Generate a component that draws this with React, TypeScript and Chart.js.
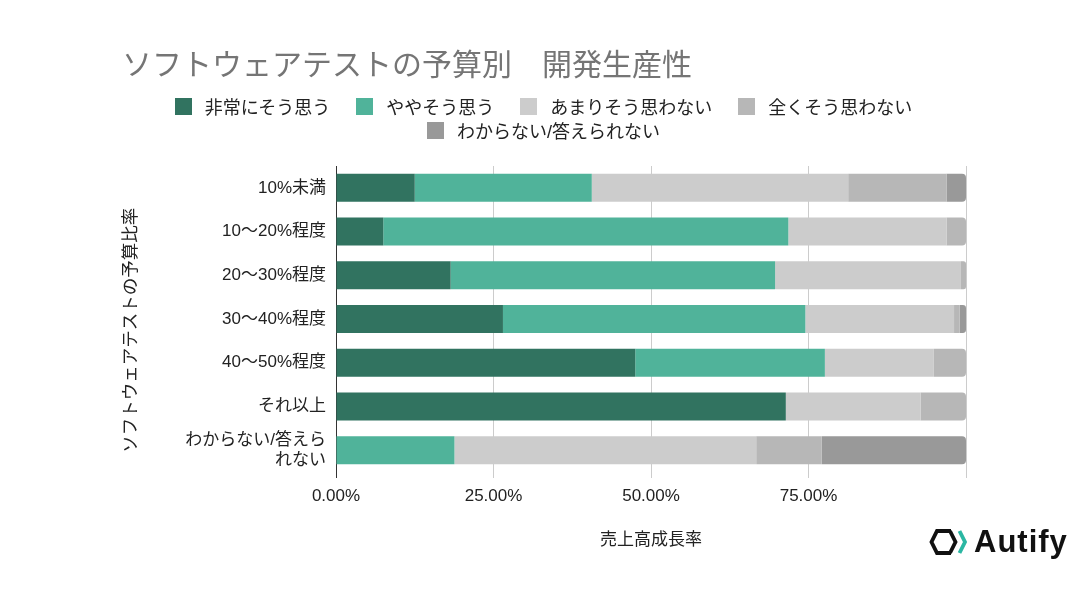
import { useEffect, useRef } from "react"
import Chart from "chart.js/auto"

const FONT = "'Liberation Sans', 'Noto Sans CJK JP', sans-serif"
const TEXT = "#222222"

// カテゴリ（予算比率）
const categories: (string | string[])[] = [
  "10%未満",
  "10〜20%程度",
  "20〜30%程度",
  "30〜40%程度",
  "40〜50%程度",
  "それ以上",
  ["わからない/答えら", "れない"],
]

// 各回答の割合（%）
const veryMuch = [12.5, 7.5, 18.2, 26.5, 47.5, 71.4, 0]
const somewhat = [28.1, 64.3, 51.5, 48.0, 30.1, 0, 18.8]
const notMuch = [40.7, 25.1, 29.5, 23.6, 17.3, 21.4, 47.9]
const notAtAll = [15.6, 3.1, 0.8, 0.9, 5.1, 7.2, 10.4]
const unknown = [3.1, 0, 0, 1.0, 0, 0, 22.9]

const seriesNames = ["非常にそう思う", "ややそう思う", "あまりそう思わない", "全くそう思わない", "わからない/答えられない"]
const seriesValues = [veryMuch, somewhat, notMuch, notAtAll, unknown]
const seriesColors = ["#317360", "#50b39a", "#cccccc", "#b7b7b7", "#999999"]

const xTicks = [0, 25, 50, 75]

// 各行で最後に値がある系列（右端の角丸用）
const lastSeries = categories.map((_, row) => {
  let last = 0
  seriesValues.forEach((vals, i) => {
    if (vals[row] > 0) last = i
  })
  return last
})

function Logo() {
  return (
    <div
      style={{
        position: "absolute",
        left: 929,
        top: 525,
        display: "flex",
        alignItems: "center",
        gap: 4,
      }}
    >
      <svg width="41" height="28" viewBox="0 0 41 28">
        <polyline
          points="22,3 8,3 2.5,14 8,25 22,25"
          fill="none"
          stroke="#111"
          strokeWidth="3.8"
          strokeLinejoin="miter"
        />
        <polyline points="21,3 26.5,14 21,25" fill="none" stroke="#111" strokeWidth="3.8" />
        <polyline points="30.5,3 36,14 30.5,25" fill="none" stroke="#2bb7a3" strokeWidth="3.8" />
      </svg>
      <span
        style={{
          fontFamily: "'Liberation Sans', sans-serif",
          fontWeight: 700,
          fontSize: 31,
          color: "#111",
          letterSpacing: 1,
          lineHeight: "34px",
        }}
      >
        Autify
      </span>
    </div>
  )
}

function Legend() {
  const item = (i: number) => (
    <div key={i} style={{ display: "flex", alignItems: "center", marginLeft: 13, marginRight: 13 }}>
      <div style={{ width: 17, height: 17, background: seriesColors[i], marginRight: 13 }} />
      <span>{seriesNames[i]}</span>
    </div>
  )
  const row = (idx: number[], top: number) => (
    <div
      style={{
        position: "absolute",
        left: 0,
        width: 1087,
        top,
        height: 24,
        display: "flex",
        justifyContent: "center",
        alignItems: "center",
      }}
    >
      {idx.map(item)}
    </div>
  )
  return (
    <div style={{ fontFamily: FONT, fontSize: 18, color: TEXT }}>
      {row([0, 1, 2, 3], 94)}
      {row([4], 118)}
    </div>
  )
}

export default function App() {
  const canvasRef = useRef<HTMLCanvasElement>(null)

  useEffect(() => {
    if (!canvasRef.current) return
    const chart = new Chart(canvasRef.current, {
      type: "bar",
      data: {
        labels: categories,
        datasets: seriesNames.map((name, i) => ({
          label: name,
          data: seriesValues[i],
          backgroundColor: seriesColors[i],
          borderWidth: 0,
          barPercentage: 0.64,
          categoryPercentage: 1,
          borderRadius: (ctx: any) =>
            lastSeries[ctx.dataIndex] === ctx.datasetIndex
              ? { topLeft: 0, bottomLeft: 0, topRight: 4, bottomRight: 4 }
              : 0,
        })),
      },
      options: {
        indexAxis: "y",
        responsive: true,
        maintainAspectRatio: false,
        animation: false,
        layout: { padding: { top: 166, right: 121, bottom: 0, left: 0 } },
        plugins: {
          legend: { display: false },
          title: { display: false },
          tooltip: { enabled: false },
        },
        scales: {
          x: {
            stacked: true,
            min: 0,
            max: 100,
            afterBuildTicks: (scale: any) => {
              scale.ticks = [...xTicks, 100].map((v) => ({ value: v }))
            },
            ticks: {
              callback: (v: any) => (xTicks.includes(Number(v)) ? `${Number(v).toFixed(2)}%` : ""),
              color: TEXT,
              font: { family: FONT, size: 17 },
              padding: 8,
              maxRotation: 0,
            },
            grid: {
              color: (ctx: any) => (ctx.tick && ctx.tick.value === 0 ? "#333333" : "#cccccc"),
              tickLength: 6,
            },
            border: { display: false },
            title: {
              display: true,
              text: "売上高成長率",
              color: TEXT,
              font: { family: FONT, size: 17 },
              padding: { top: 0, bottom: 43 },
            },
            afterFit: (scale: any) => {
              scale.height = 122
            },
          },
          y: {
            stacked: true,
            grid: { display: false, drawTicks: false },
            border: { display: true, color: "#333333", width: 1 },
            ticks: {
              color: TEXT,
              font: { family: FONT, size: 17 },
              padding: 10,
              autoSkip: false,
            },
            title: {
              display: true,
              text: "ソフトウェアテストの予算比率　 ",
              color: TEXT,
              font: { family: FONT, size: 17.5 },
              padding: { top: 121, bottom: 0 },
            },
            afterFit: (scale: any) => {
              scale.width = 336
            },
          },
        },
      },
    } as any)
    return () => chart.destroy()
  }, [])

  return (
    <div
      style={{
        position: "fixed",
        left: 0,
        top: 0,
        width: 1087,
        height: 594,
        background: "#ffffff",
        overflow: "hidden",
      }}
    >
      <div style={{ position: "absolute", inset: 0 }}>
        <canvas ref={canvasRef} />
      </div>
      <div
        style={{
          position: "absolute",
          left: 122,
          top: 44,
          fontFamily: "'Noto Sans CJK JP', sans-serif",
          fontSize: 30,
          lineHeight: "36px",
          color: "#757575",
          whiteSpace: "pre",
        }}
      >
        ソフトウェアテストの予算別　開発生産性
      </div>
      <Legend />
      <Logo />
    </div>
  )
}
